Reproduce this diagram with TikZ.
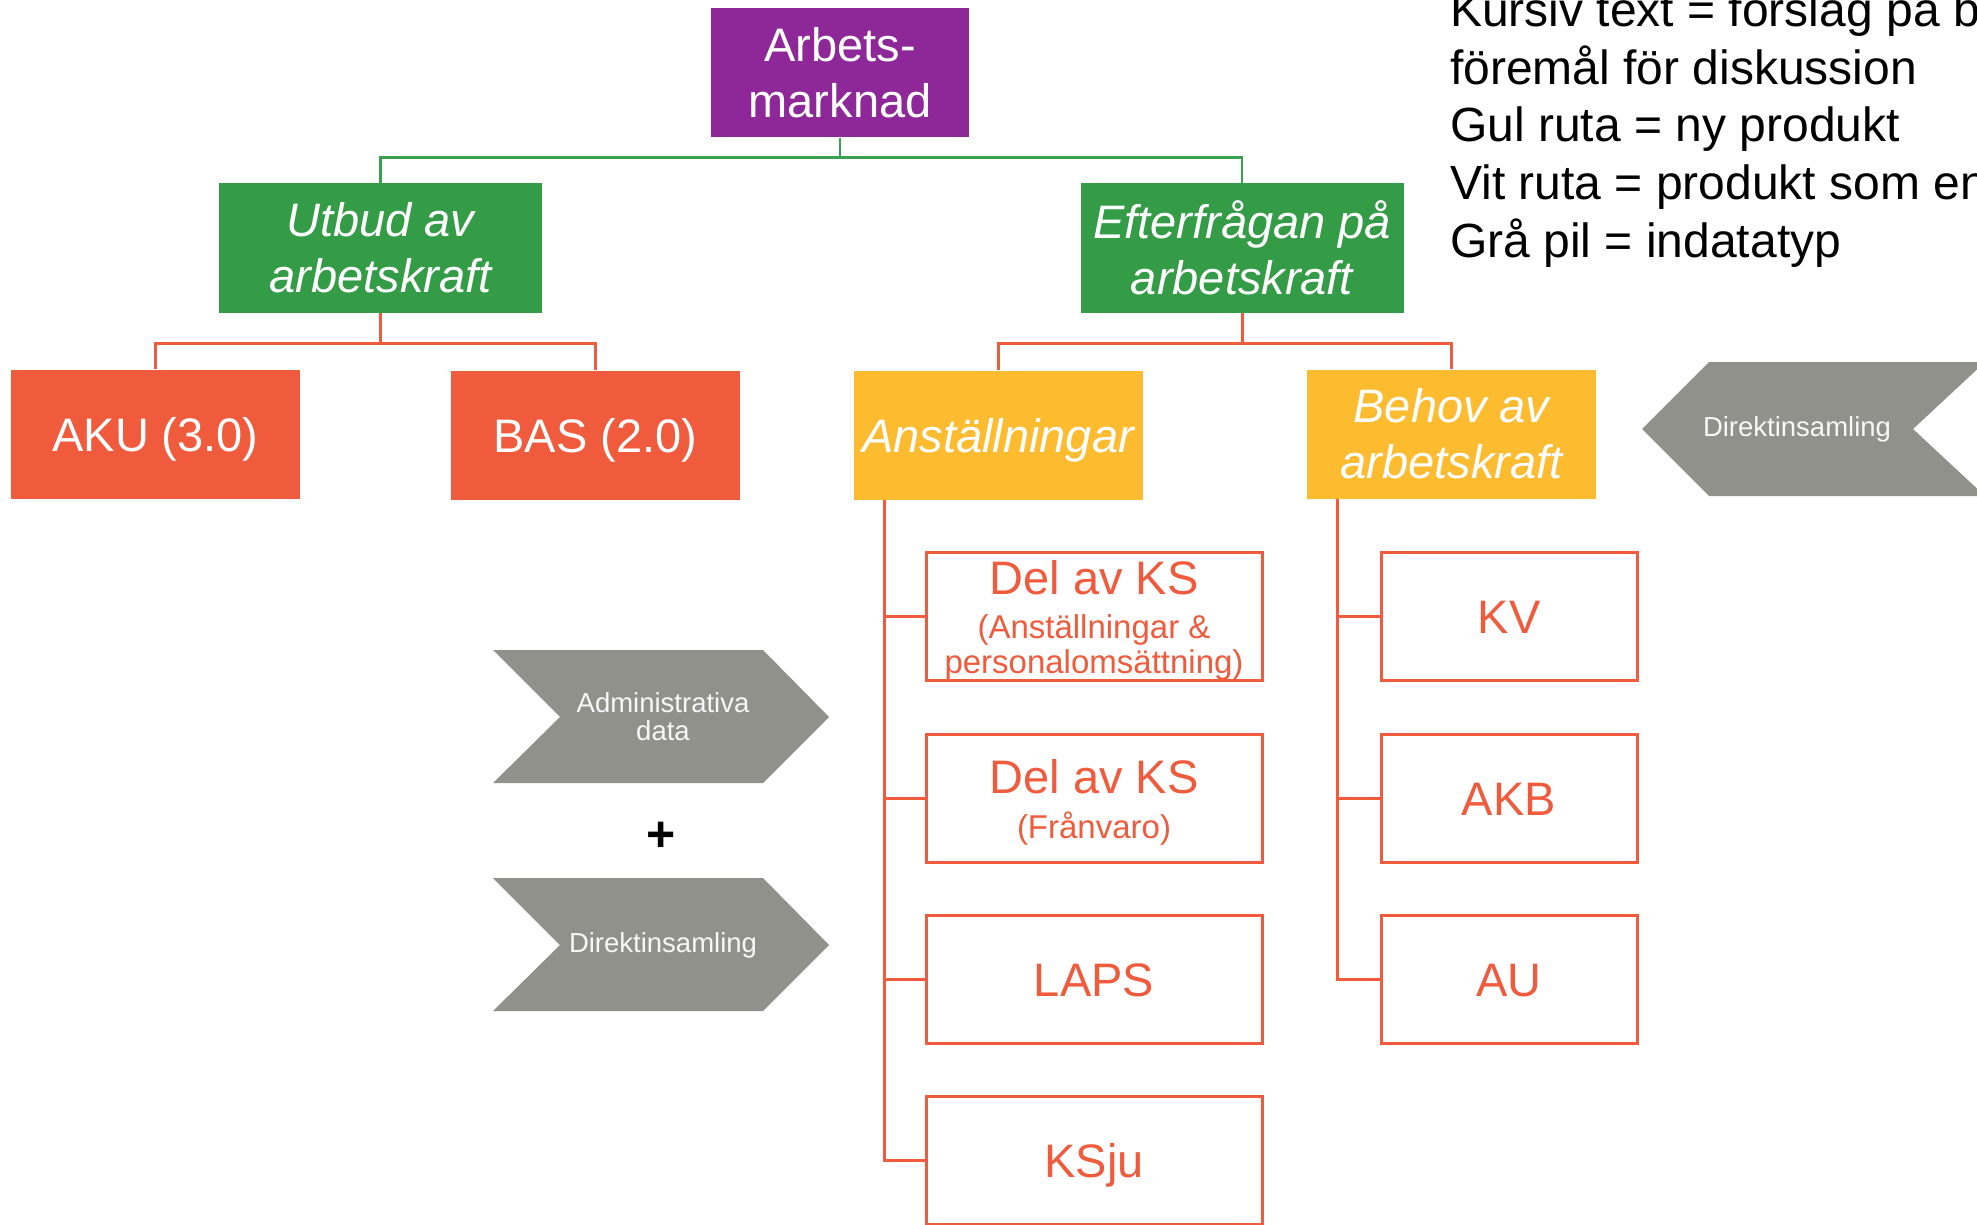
\documentclass[tikz,border=0pt]{standalone}
\usepackage{fontspec}
\setmainfont{Liberation Sans}
\definecolor{cpurple}{HTML}{8E2899}
\definecolor{cgreen}{HTML}{349B46}
\definecolor{cgline}{HTML}{3AA04F}
\definecolor{cred}{HTML}{EF5B3C}
\definecolor{cyellow}{HTML}{FDBB30}
\definecolor{cgray}{HTML}{91918B}
\definecolor{cwhitetxt}{HTML}{F7F7F7}
\begin{document}
\begin{tikzpicture}[x=1pt,y=-1pt,
  bigfont/.style={font=\fontsize{47}{56}\selectfont},
  oneline/.style={text height=34, text depth=0},
  filledbox/.style={rectangle, inner sep=0pt, align=center, text=white, bigfont},
  topbox/.style={filledbox, fill=cpurple, minimum width=258, minimum height=129},
  greenbox/.style={filledbox, fill=cgreen, minimum width=323, minimum height=130, font=\fontsize{47}{56}\selectfont\itshape},
  redbox/.style={filledbox, oneline, fill=cred, minimum width=289, minimum height=129},
  yellowbox/.style={filledbox, fill=cyellow, minimum width=289, minimum height=129, font=\fontsize{47}{56}\selectfont\itshape},
  outbox/.style={rectangle, inner sep=0pt, draw=cred, line width=3, text=cred, bigfont, minimum height=128},
  ksbox/.style={outbox, minimum width=336},
  rbox/.style={outbox, oneline, minimum width=256},
  subtxt/.style={text=cred, inner sep=0pt, font=\fontsize{33}{30}\selectfont},
  gline/.style={draw=cgline, line width=2.5},
  rline/.style={draw=cred, line width=3},
  chev/.style={fill=cgray},
  chevtxt/.style={text=cwhitetxt, align=center, inner sep=0pt, font=\fontsize{27.5}{28}\selectfont},
  legtxt/.style={anchor=base west, inner sep=0pt, font=\fontsize{48}{58}\selectfont}
]
\useasboundingbox (0,0) rectangle (1977,1225);
\clip (0,0) rectangle (1977,1225);

% top level
\node[topbox] (am) at (840,73) {Arbets-\\marknad};
\node[greenbox] (utb) at (380.5,248) {Utbud av\\arbetskraft};
\node[greenbox] (eft) at (1242,248) {Efterfrågan på\\arbetskraft};

\node[redbox] (aku) at (155.5,434) {AKU (3.0)};
\node[redbox] (bas) at (595.5,435) {BAS (2.0)};
\node[yellowbox, oneline] (ans) at (998,435) {Anställningar};
\node[yellowbox] (beh) at (1451.5,434) {Behov av\\arbetskraft};

% connectors top
\draw[gline] (am.south) -- ++(0,20) -| (utb.north);
\draw[gline] (am.south) -- ++(0,20) -| (eft.north);
\draw[rline] (utb.south) -- ++(0,30) -| (aku.north);
\draw[rline] (utb.south) -- ++(0,30) -| (bas.north);
\draw[rline] (eft.south) -- ++(0,30) -| (ans.north);
\draw[rline] (eft.south) -- ++(0,30) -| (beh.north);

% Anställningar children
\node[ksbox] (ks1) at (1094,616) {};
\node[anchor=base, inner sep=0pt, text=cred, bigfont] (ks1a) at (1094,594) {Del av KS};
\node[anchor=base, subtxt] (ks1b) at (1094,638) {(Anställningar \&};
\node[anchor=base, subtxt] (ks1c) at (1094,673) {personalomsättning)};
\node[ksbox] (ks2) at (1094,798) {};
\node[anchor=base, inner sep=0pt, text=cred, bigfont] (ks2a) at (1094,793) {Del av KS};
\node[anchor=base, subtxt] (ks2b) at (1094,838) {(Frånvaro)};
\node[ksbox, oneline] (laps) at (1094,979) {LAPS};
\node[ksbox, oneline] (ksju) at (1094,1160) {KSju};

\coordinate (ansx) at (884,500);
\draw[rline] (ansx) |- (ks1.west);
\draw[rline] (ansx) |- (ks2.west);
\draw[rline] (ansx) |- (laps.west);
\draw[rline] (ansx) |- (ksju.west);

% Behov children
\node[rbox] (kv) at (1509,616) {KV};
\node[rbox] (akb) at (1509,798) {AKB};
\node[rbox] (au) at (1509,979) {AU};
\coordinate (behx) at (1337,499);
\draw[rline] (behx) |- (kv.west);
\draw[rline] (behx) |- (akb.west);
\draw[rline] (behx) |- (au.west);

% chevrons
\fill[chev] (493,650) -- (763,650) -- (829,717) -- (763,783) -- (493,783) -- (560,717) -- cycle;
\node[chevtxt] (adm) at (663,717) {Administrativa\\data};
\node[inner sep=0pt, font=\fontsize{50}{50}\selectfont\bfseries] (plus) at (661,837) {+};
\fill[chev] (493,878) -- (763,878) -- (829,945) -- (763,1011) -- (493,1011) -- (560,945) -- cycle;
\node[chevtxt] (dir1) at (663,945) {Direktinsamling};
\fill[chev] (1709,362) -- (1985,362) -- (1913,429) -- (1985,496) -- (1709,496) -- (1642,429) -- cycle;
\node[chevtxt] (dir2) at (1797,429) {Direktinsamling};

% legend
\node[legtxt] (leg1) at (1450,27) {Kursiv text = förslag på b};
\node[legtxt] (leg2) at (1450,84.5) {föremål för diskussion};
\node[legtxt] (leg3) at (1450,142) {Gul ruta = ny produkt};
\node[legtxt] (leg4) at (1450,199.5) {Vit ruta = produkt som en};
\node[legtxt] (leg5) at (1450,257) {Grå pil = indatatyp};
\end{tikzpicture}
\end{document}
